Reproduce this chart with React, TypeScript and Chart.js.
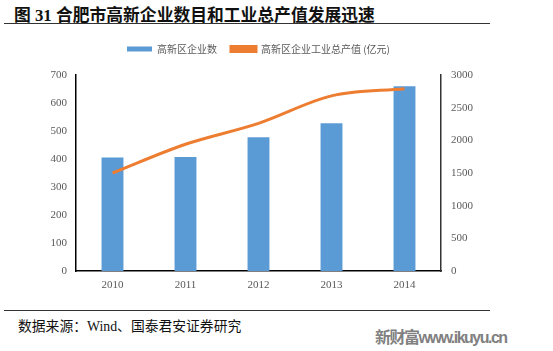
import React, { useEffect, useRef } from "react";
import { Chart, registerables } from "chart.js";

Chart.register(...registerables);

const categories = ["2010", "2011", "2012", "2013", "2014"];
const companyCount = [405, 407, 478, 528, 660];
const outputValue = [1500, 1940, 2260, 2680, 2790];
const leftTicks = [0, 100, 200, 300, 400, 500, 600, 700];
const rightTicks = [0, 500, 1000, 1500, 2000, 2500, 3000];
const seriesNames = ["高新区企业数", "高新区企业工业总产值 (亿元)"];

const tickFont = { family: "'Liberation Serif', 'Times New Roman', serif", size: 11 };

const legendHeight = {
  id: "legendHeight",
  beforeInit(chart: any) {
    const orig = chart.legend.fit;
    chart.legend.fit = function () {
      orig.bind(chart.legend)();
      this.height = 45;
    };
  },
};

export default function App() {
  const ref = useRef<HTMLCanvasElement | null>(null);

  useEffect(() => {
    if (!ref.current) return;
    const chart = new Chart(ref.current, {
      type: "bar",
      data: {
        labels: categories,
        datasets: [
          {
            type: "bar",
            label: seriesNames[0],
            data: companyCount,
            backgroundColor: "#5B9BD5",
            yAxisID: "y",
            categoryPercentage: 1,
            barPercentage: 0.3,
            order: 2,
          },
          {
            type: "line",
            label: seriesNames[1],
            data: outputValue,
            borderColor: "#ED7D31",
            backgroundColor: "#ED7D31",
            borderWidth: 3,
            pointRadius: 0,
            tension: 0.4,
            cubicInterpolationMode: "monotone",
            yAxisID: "y1",
            order: 1,
          } as any,
        ],
      },
      plugins: [legendHeight],
      options: {
        animation: false,
        responsive: false,
        maintainAspectRatio: false,
        layout: { padding: { left: 0, right: 0, top: 0, bottom: 0 } },
        plugins: {
          legend: {
            position: "top",
            fullSize: false,
            labels: {
              boxWidth: 25,
              boxHeight: 5,
              color: "#595959",
              font: { family: "'Noto Sans CJK SC', sans-serif", size: 10 },
              padding: 14,
              sort: (a: any, b: any) => a.datasetIndex - b.datasetIndex,
            },
          },
          tooltip: { enabled: false },
        },
        scales: {
          x: {
            grid: { display: false, drawTicks: false },
            border: { display: true, color: "#000", width: 1.5 },
            ticks: { color: "#595959", font: tickFont, padding: 8 },
            afterFit: (s: any) => { s.height = 29; },
          },
          y: {
            position: "left",
            min: 0,
            max: 700,
            afterBuildTicks: (s: any) => { s.ticks = leftTicks.map((v) => ({ value: v })); },
            grid: { display: false, drawTicks: false },
            border: { display: true, color: "#000", width: 1.5 },
            ticks: { color: "#595959", font: tickFont, padding: 9, callback: (v: any) => String(v) },
            afterFit: (s: any) => { s.width = 76; },
          },
          y1: {
            position: "right",
            min: 0,
            max: 3000,
            afterBuildTicks: (s: any) => { s.ticks = rightTicks.map((v) => ({ value: v })); },
            grid: { display: false, drawTicks: false },
            border: { display: true, color: "#333", width: 1.5 },
            ticks: { color: "#595959", font: tickFont, padding: 10, callback: (v: any) => String(v) },
            afterFit: (s: any) => { s.width = 112; },
          },
        },
      },
    });
    return () => chart.destroy();
  }, []);

  return (
    <div style={{ position: "fixed", left: 0, top: 0, width: 553, height: 351, background: "#fff", overflow: "hidden" }}>
      <div style={{ position: "absolute", left: 14, top: 2, fontFamily: "'Liberation Serif', 'Noto Sans CJK SC', serif", fontWeight: "bold", fontSize: 16.8, color: "#111", whiteSpace: "nowrap" }}>
        图 31 合肥市高新企业数目和工业总产值发展迅速
      </div>
      <div style={{ position: "absolute", left: 4, top: 23, width: 486, height: 1, background: "#333" }} />
      <canvas ref={ref} width={553} height={270} style={{ position: "absolute", left: 0, top: 30, width: 553, height: 270 }} />
      <div style={{ position: "absolute", left: 4, top: 310, width: 486, height: 1, background: "#333" }} />
      <div style={{ position: "absolute", left: 18, top: 315, fontFamily: "'Liberation Serif', 'Noto Sans CJK SC', serif", fontSize: 13.8, color: "#111", whiteSpace: "nowrap" }}>
        数据来源：Wind、国泰君安证券研究
      </div>
      <div style={{ position: "absolute", left: 375, top: 324, fontFamily: "'Liberation Sans', 'Noto Sans CJK SC', sans-serif", fontWeight: "bold", fontSize: 16, letterSpacing: -1.5, color: "#808080", whiteSpace: "nowrap" }}>
        新财富www.ikuyu.cn
      </div>
    </div>
  );
}
